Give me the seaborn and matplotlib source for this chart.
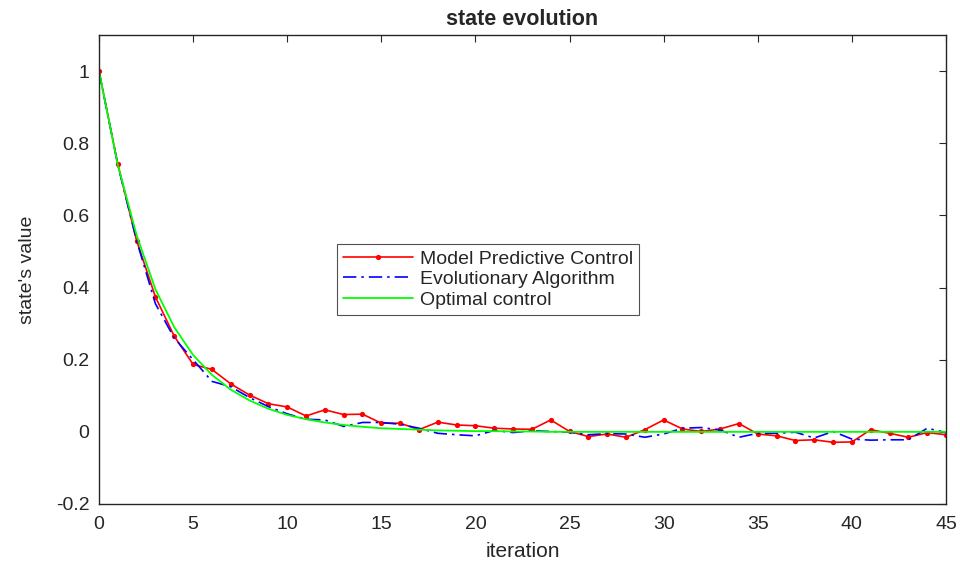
import numpy as np
import pandas as pd
import matplotlib
matplotlib.use("Agg")
import matplotlib.pyplot as plt
import seaborn as sns

iterations = list(range(46))
mpc = [1.0, 0.742, 0.53, 0.374, 0.265, 0.187, 0.173, 0.133, 0.102, 0.078, 0.069,
       0.044, 0.061, 0.048, 0.049, 0.024, 0.024, 0.006, 0.027, 0.019, 0.017,
       0.010, 0.008, 0.007, 0.033, 0.001, -0.013, -0.006, -0.015, 0.006, 0.033,
       0.008, 0.001, 0.008, 0.023, -0.006, -0.011, -0.024, -0.022, -0.029, -0.028,
       0.006, -0.004, -0.015, -0.002, -0.008]
ea = [1.0, 0.74, 0.53, 0.355, 0.26, 0.20, 0.14, 0.125, 0.095, 0.07, 0.05,
      0.035, 0.033, 0.015, 0.026, 0.026, 0.021, 0.010, -0.004, -0.008, -0.011,
      0.004, -0.002, 0.003, 0.001, -0.001, -0.008, -0.005, -0.006, -0.015, -0.006,
      0.010, 0.012, 0.005, -0.015, -0.004, -0.004, -0.001, -0.017, 0.001, -0.020,
      -0.023, -0.022, -0.022, 0.010, -0.002]
optimal = [1.0, 0.74, 0.545, 0.395, 0.29, 0.213, 0.158, 0.117, 0.087, 0.064, 0.047,
           0.035, 0.026, 0.019, 0.014, 0.010, 0.008, 0.006, 0.004, 0.003, 0.002,
           0.002, 0.001, 0.001, 0.0, 0.0, 0.0, 0.0, 0.0, 0.0, 0.0,
           0.0, 0.0, 0.0, 0.0, 0.0, 0.0, 0.0, 0.0, 0.0, 0.0,
           0.0, 0.0, 0.0, 0.0, 0.0]
labels = ["Model Predictive Control", "Evolutionary Algorithm", "Optimal control"]
x_ticks = [0, 5, 10, 15, 20, 25, 30, 35, 40, 45]
y_ticks = [-0.2, 0, 0.2, 0.4, 0.6, 0.8, 1]
y_tick_labels = ["-0.2", "0", "0.2", "0.4", "0.6", "0.8", "1"]

sns.set_style("white")
plt.rcParams['font.family'] = ['Liberation Sans', 'DejaVu Sans']

df = pd.DataFrame({"iteration": iterations, "mpc": mpc, "ea": ea, "opt": optimal})

fig = plt.figure(figsize=(9.6, 5.63), dpi=100)
ax = fig.add_axes([0.1031, 0.1048, 0.8823, 0.833])

sns.lineplot(data=df, x="iteration", y="mpc", ax=ax, color="#ff0000", lw=1.2,
             marker="o", markersize=3.8, markeredgewidth=0, label=labels[0])
sns.lineplot(data=df, x="iteration", y="ea", ax=ax, color="#0000ff", lw=1.2,
             dashes=False, label=labels[1])
ax.lines[-1].set_linestyle((0, (8, 3, 1.5, 3)))
sns.lineplot(data=df, x="iteration", y="opt", ax=ax, color="#00ff00", lw=1.3,
             label=labels[2])

ax.set_xlim(0, 45)
ax.set_ylim(-0.2, 1.1)
ax.set_xticks(x_ticks)
ax.set_yticks(y_ticks)
ax.set_yticklabels(y_tick_labels)
ax.tick_params(direction="in", length=5, width=0.8, top=True, right=True,
               labelsize=14, colors="#262626")
ax.tick_params(axis="y", pad=7)
ax.tick_params(axis="x", pad=9)
for s in ax.spines.values():
    s.set_visible(True)
    s.set_color("#262626")
    s.set_linewidth(1.0)
ax.set_xlabel("iteration", fontsize=15, color="#262626", labelpad=6)
ax.set_ylabel("state's value", fontsize=14, color="#262626", labelpad=14)
ax.set_title("state evolution", fontsize=15.5, fontweight="bold", pad=7)

leg = ax.legend(loc="upper left", bbox_to_anchor=(0.281, 0.554), fontsize=14,
                frameon=True, fancybox=False, edgecolor="#262626",
                handlelength=3.6, handletextpad=0.35, borderpad=0.3,
                labelspacing=0.15, borderaxespad=0)
leg.get_frame().set_linewidth(0.8)

fig.savefig("out.png", dpi=100)
